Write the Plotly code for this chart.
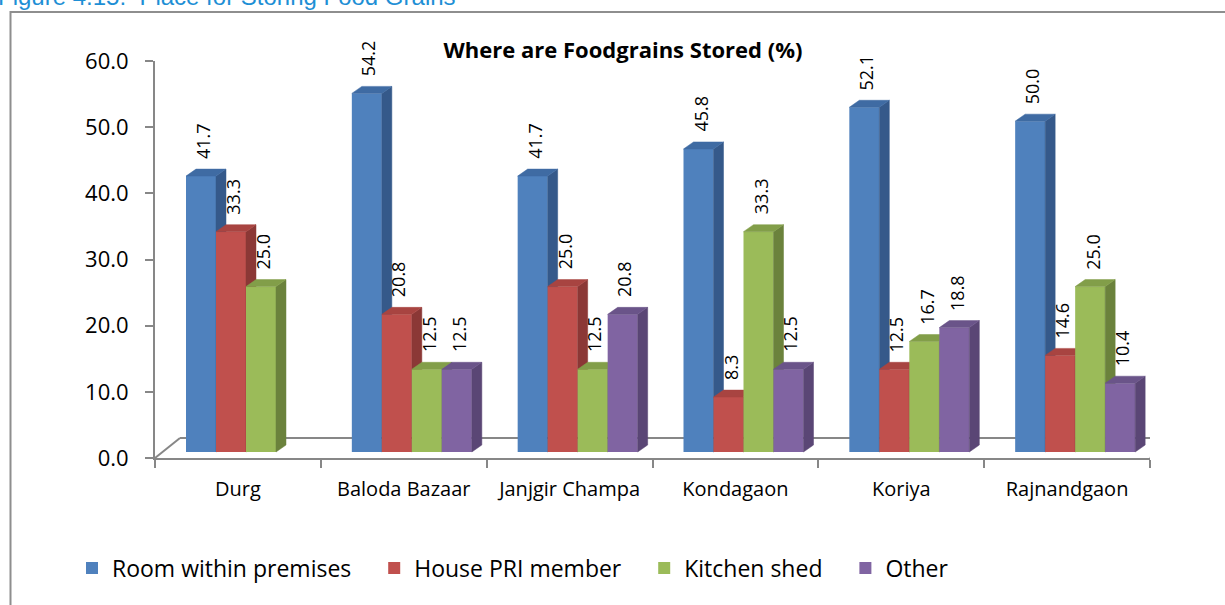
import plotly.graph_objects as go

# ---------------- data ----------------
categories = ["Durg", "Baloda Bazaar", "Janjgir Champa", "Kondagaon", "Koriya", "Rajnandgaon"]
series_names = ["Room within premises", "House PRI member", "Kitchen shed", "Other"]
room_within_premises = [41.7, 54.2, 41.7, 45.8, 52.1, 50.0]
house_pri_member = [33.3, 20.8, 25.0, 8.3, 12.5, 14.6]
kitchen_shed = [25.0, 12.5, 12.5, 33.3, 16.7, 25.0]
other = [None, 12.5, 20.8, 12.5, 18.8, 10.4]
y_ticks = [0, 10, 20, 30, 40, 50, 60]
title_text = "Where are Foodgrains Stored (%)"
caption_text = "Figure 4.15:  Place for Storing Food Grains"

series_values = [room_within_premises, house_pri_member, kitchen_shed, other]
front_colors = ["#4F81BD", "#C0504D", "#9BBB59", "#8064A2"]
side_colors = ["#35598A", "#8B3836", "#6B823C", "#5A4675"]
top_colors = ["#3F6BA3", "#A84441", "#829E49", "#6A5489"]

# ---------------- geometry (pixels) ----------------
FIG_W, FIG_H = 1225, 605
L, R, T, B = 155, 1150, 61, 458
PW, PH = R - L, B - T
XR = [-0.5, len(categories) - 0.5]
YR = [0, 60]
UX = (XR[1] - XR[0]) / PW      # data units per px (x)
UY = (YR[1] - YR[0]) / PH      # data units per px (y)

PAD = 31      # px from category start to first bar
BW = 30       # bar width px
LIFT = 6      # bar base above front floor edge px
DX, DY = 10, 7   # 3D depth of bars
FDX, FDY = 25, 20  # floor depth

AXIS_GRAY = "#878787"
FONT = "Open Sans"
NB = "\u00a0"

fig = go.Figure()

cat_idx = list(range(len(categories)))
annotations = []

for s, (name, vals) in enumerate(zip(series_names, series_values)):
    xa = "x" if s == 0 else f"x{s+1}"
    ya = "y" if s == 0 else f"y{s+1}"
    off = -0.5 + (PAD + s * BW) * UX
    bw = BW * UX
    base = LIFT * UY
    xs = [c for c, v in zip(cat_idx, vals) if v is not None]
    vs = [v for v in vals if v is not None]
    legend_name = name + (NB * 3 if s < len(series_names) - 1 else "")
    fig.add_trace(go.Bar(
        x=xs, y=vs, base=[base] * len(vs), width=bw, offset=off,
        name=legend_name, marker=dict(color=front_colors[s], line=dict(width=0)),
        xaxis=xa, yaxis=ya, showlegend=True, hoverinfo="skip",
    ))
    sx, sy, tx, ty = [], [], [], []
    dxu, dyu = DX * UX, DY * UY
    for c, v in zip(xs, vs):
        xl = c + off
        xr = xl + bw
        yb = base
        yt = base + v
        sx += [xr, xr + dxu, xr + dxu, xr, xr, None]
        sy += [yb, yb + dyu, yt + dyu, yt, yb, None]
        tx += [xl, xr, xr + dxu, xl + dxu, xl, None]
        ty += [yt, yt, yt + dyu, yt + dyu, yt, None]
        annotations.append(dict(
            x=xl + bw / 2, y=yt, xref="x", yref="y", text=f"{v:.1f}",
            showarrow=False, textangle=-90, xanchor="center", yanchor="bottom",
            yshift=15, xshift=2, font=dict(family=FONT, size=18, color="black"),
        ))
    fig.add_trace(go.Scatter(x=sx, y=sy, mode="lines", fill="toself",
                             fillcolor=side_colors[s], line=dict(color=side_colors[s], width=0.5),
                             xaxis=xa, yaxis=ya, showlegend=False, hoverinfo="skip"))
    fig.add_trace(go.Scatter(x=tx, y=ty, mode="lines", fill="toself",
                             fillcolor=top_colors[s], line=dict(color=top_colors[s], width=0.5),
                             xaxis=xa, yaxis=ya, showlegend=False, hoverinfo="skip"))

# floor (3D base) edges
fdx, fdy = FDX * UX, FDY * UY
shapes = [
    dict(type="line", xref="x", yref="y", x0=XR[0], y0=0, x1=XR[0] + fdx, y1=fdy,
         line=dict(color=AXIS_GRAY, width=2), layer="below"),
    dict(type="line", xref="x", yref="y", x0=XR[0] + fdx, y0=fdy, x1=XR[1] + fdx, y1=fdy,
         line=dict(color=AXIS_GRAY, width=2), layer="below"),
    dict(type="line", xref="x", yref="y", x0=XR[1], y0=0, x1=XR[1] + fdx, y1=fdy,
         line=dict(color=AXIS_GRAY, width=2), layer="below"),
    # outer chart frame
    dict(type="rect", xref="paper", yref="paper",
         x0=(10.5 - L) / PW, x1=(FIG_W + 20 - L) / PW,
         y0=(B - FIG_H - 20) / PH, y1=(B - 12) / PH,
         line=dict(color="#8E8E8E", width=2), fillcolor="rgba(0,0,0,0)", layer="below"),
]

annotations.append(dict(
    text=caption_text, xref="paper", yref="paper",
    x=(-4 - L) / PW, y=(B - 12) / PH, xanchor="left", yanchor="bottom",
    showarrow=False, font=dict(family="Liberation Sans", size=24, color="#1E8FD5"),
))

layout_axes = {}
for s in range(1, 4):
    layout_axes[f"xaxis{s+1}"] = dict(range=XR, overlaying="x", visible=False, fixedrange=True)
    layout_axes[f"yaxis{s+1}"] = dict(range=YR, overlaying="y", visible=False, fixedrange=True)

fig.update_layout(
    width=FIG_W, height=FIG_H,
    margin=dict(l=L, r=FIG_W - R, t=T, b=FIG_H - B, autoexpand=False),
    paper_bgcolor="white", plot_bgcolor="white",
    barmode="overlay",
    title=dict(text=f"<b>{title_text}</b>", x=(623 - L) / PW, xref="paper", xanchor="center",
               y=1 - 50 / FIG_H, yref="container", yanchor="middle",
               font=dict(family=FONT, size=22, color="black")),
    xaxis=dict(range=XR, tickmode="array", tickvals=cat_idx, ticktext=categories,
               ticks="", showgrid=False, zeroline=False,
               showline=True, linecolor=AXIS_GRAY, linewidth=2,
               tickfont=dict(family=FONT, size=20, color="black"), ticklabelstandoff=12,
               minor=dict(tickmode="array", tickvals=[i - 0.5 for i in range(len(categories) + 1)],
                          ticks="outside", ticklen=8, tickwidth=2, tickcolor=AXIS_GRAY, showgrid=False),
               fixedrange=True),
    yaxis=dict(range=YR, tickmode="array", tickvals=y_ticks, tickformat=".1f",
               ticks="outside", ticklen=8, tickwidth=2, tickcolor=AXIS_GRAY,
               showgrid=False, zeroline=False, showline=True, linecolor=AXIS_GRAY, linewidth=2,
               tickfont=dict(family=FONT, size=22, color="black"), ticklabelstandoff=12,
               fixedrange=True),
    legend=dict(orientation="h", x=(72 - L) / PW, xanchor="left", y=(B - 568) / PH, yanchor="middle",
                font=dict(family=FONT, size=23, color="black"), bgcolor="rgba(0,0,0,0)",
                itemclick=False, itemdoubleclick=False, traceorder="normal"),
    annotations=annotations,
    shapes=shapes,
    showlegend=True,
    **layout_axes,
)

fig.write_html("out.html", config={"displayModeBar": False},
               post_script="document.body.style.margin='0';")
